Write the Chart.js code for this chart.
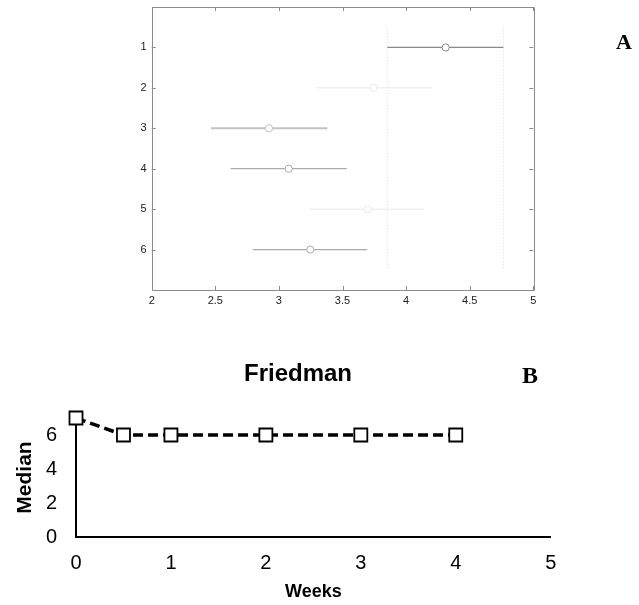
<!DOCTYPE html>
<html><head><meta charset="utf-8">
<script src="https://cdn.jsdelivr.net/npm/chart.js@4/dist/chart.umd.min.js"></script>
<style>
html,body{margin:0;padding:0;background:#fff;}
body{width:639px;height:605px;position:relative;overflow:hidden;font-family:'Liberation Sans',Arial,sans-serif;}
#wa{position:absolute;left:0;top:0;width:639px;height:320px;}
#wb{position:absolute;left:0;top:340px;width:639px;height:265px;}
.lab{position:absolute;white-space:nowrap;line-height:1;transform:translate(-50%,-50%);color:#000;}
#labA{left:624px;top:42px;font:bold 22px 'Liberation Serif','Times New Roman',serif;}
#labB{left:530px;top:375px;font:bold 24px 'Liberation Serif','Times New Roman',serif;}
#labT{left:298px;top:373px;font:bold 24px 'Liberation Sans',Arial,sans-serif;}
</style></head><body>
<div id="wa"><canvas id="ca" width="639" height="320"></canvas></div>
<div id="wb"><canvas id="cb" width="639" height="265"></canvas></div>
<div class="lab" id="labA">A</div>
<div class="lab" id="labB">B</div>
<div class="lab" id="labT">Friedman</div>
<script>
// ---- Panel A: multiple comparison of group means ----
const groupIds = [1, 2, 3, 4, 5, 6];
const groupMeans = [4.311, 3.745, 2.922, 3.077, 3.698, 3.247];
const groupLower = [3.852, 3.292, 2.466, 2.621, 3.242, 2.794];
const groupUpper = [4.765, 4.201, 3.381, 3.533, 4.143, 3.695];
const refLines = [3.852, 4.765];
const refSpan = [0.5, 6.5];
const xTicksA = [2, 2.5, 3, 3.5, 4, 4.5, 5];

// ---- Panel B: Friedman medians ----
const weeks = [0, 0.5, 1, 2, 3, 4];
const medians = [7, 6, 6, 6, 6, 6];

const groupColors = ['#8a8a8a', '#e8e8e8', '#c2c2c2', '#ababab', '#e8e8e8', '#ababab'];
const groupWidths = [1.2, 1, 2, 1.3, 1, 1.3];
const FONT = "'Liberation Sans', Arial, sans-serif";

const noPad = s => { s.paddingTop = 0; s.paddingBottom = 0; s.paddingLeft = 0; s.paddingRight = 0; };

const boxTicks = {
  id: 'boxTicks',
  afterDatasetsDraw(chart) {
    const {ctx, chartArea: a, scales: {x, y}} = chart;
    ctx.save();
    ctx.strokeStyle = '#8c8c8c';
    ctx.lineWidth = 1;
    ctx.beginPath();
    ctx.rect(Math.round(a.left) + 0.5, Math.round(a.top) + 0.5, Math.round(a.right - a.left), Math.round(a.bottom - a.top));
    const L = 4;
    xTicksA.forEach(v => {
      const px = Math.round(x.getPixelForValue(v)) + 0.5;
      ctx.moveTo(px, a.bottom); ctx.lineTo(px, a.bottom - L);
      ctx.moveTo(px, a.top); ctx.lineTo(px, a.top + L);
    });
    groupIds.forEach(v => {
      const py = Math.round(y.getPixelForValue(v)) + 0.5;
      ctx.moveTo(a.left, py); ctx.lineTo(a.left + L, py);
      ctx.moveTo(a.right, py); ctx.lineTo(a.right - L, py);
    });
    ctx.stroke();
    ctx.restore();
  }
};

const dsA = [];
groupIds.forEach((g, i) => {
  dsA.push({
    data: [{x: groupLower[i], y: g}, {x: groupUpper[i], y: g}],
    showLine: true, borderColor: groupColors[i], borderWidth: groupWidths[i],
    pointRadius: 0, order: 1
  });
});
refLines.forEach(v => {
  dsA.push({
    data: [{x: v, y: refSpan[0]}, {x: v, y: refSpan[1]}],
    showLine: true, borderColor: '#dcdcdc', borderWidth: 1, borderDash: [1, 2],
    pointRadius: 0, order: 2
  });
});
dsA.push({
  data: groupIds.map((g, i) => ({x: groupMeans[i], y: g})),
  showLine: false, pointStyle: 'circle', pointRadius: 3.6,
  pointBorderColor: groupColors, pointBackgroundColor: '#ffffff', pointBorderWidth: 1,
  order: 0
});

new Chart(document.getElementById('ca'), {
  type: 'scatter',
  data: {datasets: dsA},
  options: {
    responsive: false, animation: false, devicePixelRatio: 1,
    layout: {padding: {top: 7, right: 105.7, left: 0, bottom: 10}},
    plugins: {legend: {display: false}, tooltip: {enabled: false}},
    scales: {
      x: {
        type: 'linear', min: 2, max: 5,
        afterBuildTicks: s => { s.ticks = xTicksA.map(v => ({value: v})); },
        ticks: {font: {family: FONT, size: 11}, color: '#222', padding: 4, maxRotation: 0,
                callback: v => String(+v)},
        grid: {display: false, drawTicks: false},
        border: {display: false},
        afterFit: s => { s.height = 20; noPad(s); }
      },
      y: {
        type: 'linear', min: 0, max: 7, reverse: true,
        afterBuildTicks: s => { s.ticks = groupIds.map(v => ({value: v})); },
        ticks: {font: {family: FONT, size: 11}, color: '#222', padding: 5,
                callback: v => String(+v)},
        grid: {display: false, drawTicks: false},
        border: {display: false},
        afterFit: s => { s.width = 151.7; noPad(s); }
      }
    }
  },
  plugins: [boxTicks]
});

new Chart(document.getElementById('cb'), {
  type: 'scatter',
  data: {datasets: [{
    data: weeks.map((w, i) => ({x: w, y: medians[i]})),
    showLine: true, borderColor: '#000', borderWidth: 3.5, borderDash: [10, 5],
    pointStyle: 'rect', pointRadius: 9.2, pointBorderColor: '#000',
    pointBackgroundColor: '#fff', pointBorderWidth: 1.8, clip: false
  }]},
  options: {
    responsive: false, animation: false, devicePixelRatio: 1,
    layout: {padding: {top: 78, right: 88.3, left: 0, bottom: 0}},
    plugins: {legend: {display: false}, tooltip: {enabled: false}},
    scales: {
      x: {
        type: 'linear', min: 0, max: 5,
        ticks: {stepSize: 1, font: {family: FONT, size: 20}, color: '#000', padding: 14, maxRotation: 0},
        grid: {display: false, drawTicks: false},
        border: {display: true, color: '#000', width: 2},
        title: {display: true, text: 'Weeks', color: '#000', font: {family: FONT, size: 18, weight: 'bold'}, padding: {top: 0, bottom: 2}},
        afterFit: s => { s.height = 68; noPad(s); }
      },
      y: {
        type: 'linear', min: 0, max: 7,
        afterBuildTicks: s => { s.ticks = s.ticks.filter(t => t.value % 2 === 0); },
        ticks: {stepSize: 2, font: {family: FONT, size: 20}, color: '#000', padding: 19},
        grid: {display: false, drawTicks: false},
        border: {display: true, color: '#000', width: 2},
        title: {display: true, text: 'Median', color: '#000', font: {family: FONT, size: 21, weight: 'bold'}, padding: {top: 13, bottom: 0}},
        afterFit: s => { s.width = 76; noPad(s); }
      }
    }
  }
});
</script>
</body></html>
